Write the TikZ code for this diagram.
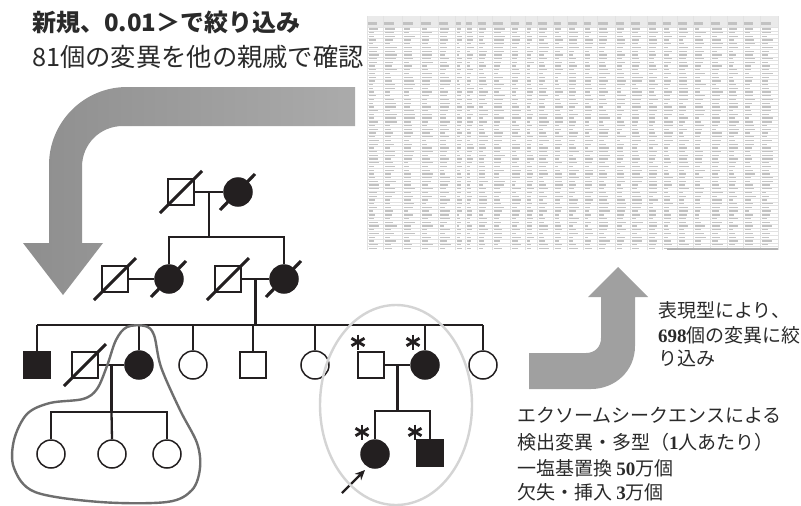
\documentclass[tikz,border=0pt]{standalone}
\usepackage{fontspec}
\setmainfont{Liberation Serif}
\newfontfamily\jp{Noto Sans CJK JP}
\newfontfamily\numf{Liberation Serif}
\usetikzlibrary{arrows.meta,calc}
\definecolor{ink}{HTML}{231F20}
\definecolor{txt}{HTML}{2A2A2A}
\definecolor{arrdark}{HTML}{8E8E8E}
\definecolor{arrlight}{HTML}{ABABAB}
\definecolor{arrR}{HTML}{A0A0A0}
\definecolor{ringc}{HTML}{D4D4D4}
\definecolor{blobc}{HTML}{6E6E6E}
\definecolor{gridc}{HTML}{E2E2E2}
\definecolor{cellt}{HTML}{C2C2C2}
\definecolor{headc}{HTML}{EAEAEA}
\tikzset{
  male/.style={rectangle, draw=ink, line width=1.5pt, minimum size=26pt, inner sep=0pt, fill=white},
  female/.style={circle, draw=ink, line width=1.5pt, minimum size=28pt, inner sep=0pt, fill=white},
  aff/.style={fill=ink},
  rel/.style={draw=ink, line width=2.3pt},
  dead/.style={draw=ink, line width=3.1pt},
  starpic/.pic={\foreach \a in {90,30,150} {\draw[ink, line width=2.8pt] (\a:7.5pt) -- (\a+180:7.5pt);}},
  titleA/.style={anchor=west, inner sep=0pt, text=txt, font=\jp\bfseries\fontsize{24}{24}\selectfont},
  titleB/.style={anchor=west, inner sep=0pt, text=txt, font=\jp\fontsize{25.3}{25.3}\selectfont},
  note/.style={anchor=west, inner sep=0pt, text=txt, font=\jp\fontsize{19}{19}\selectfont},
}
\begin{document}
\begin{tikzpicture}[x=1pt,y=-1pt]
\useasboundingbox (0,0) rectangle (801,506);
\fill[white] (0,0) rectangle (801,506);

% ---------- spreadsheet ----------
\fill[white] (367,16) rectangle (778,250);
\fill[headc] (367,16) rectangle (778,27);
\pgfmathsetseed{7}
\foreach \i in {0,...,59} {
  \draw[gridc, line width=0.3pt] (367,{27+\i*3.72}) -- (778,{27+\i*3.72});
}
\foreach \xa/\xb in {367/383,383/402,402/420,420/438,438/455,455/465,465/477,477/492,492/510,510/525,525/537,537/553,553/567,567/583,583/597,597/615,615/630,630/647,647/662,662/677,677/693,693/710,710/727,727/743,743/760,760/778} {
  \draw[gridc, line width=0.3pt] (\xa,16) -- (\xa,250);
  \fill[cellt] ({\xa+1},22) rectangle ({\xa+0.6*(\xb-\xa)},25);
  \foreach \i in {0,...,59} {
    \pgfmathsetmacro\w{(0.3+0.45*rnd)*(\xb-\xa-2)}
    \fill[cellt] ({\xa+1.5},{27+\i*3.72+1.2}) rectangle ({\xa+1.5+\w},{27+\i*3.72+2.5});
  }
}
\draw[gridc, line width=0.3pt] (778,16) -- (778,250);
\fill[gray!60] (667,247.5) rectangle (778,250);

% ---------- big curved arrow ----------
\shade[left color=arrdark, right color=arrlight]
  (355,87) -- (127,87) .. controls (84,87) and (49,122) .. (49,165)
  -- (49,243) -- (23,243) -- (63,295) -- (103,243) -- (82,243)
  -- (82,167) .. controls (82,144) and (100,126) .. (123,126)
  -- (355,126) -- cycle;

% ---------- right arrow ----------
\fill[arrR]
  (529,389) -- (529,353) -- (586,353) .. controls (595,353) and (601,347) .. (601,338)
  -- (601,297) -- (588,297) -- (618,267) -- (648,297) -- (635,297)
  -- (635,346) .. controls (635,371) and (615,389) .. (591,389) -- cycle;

% ---------- texts ----------
\node[titleA] (t1) at (32,22) {新規、0.01＞で絞り込み};
\node[titleB] (t2) at (32,57) {81個の変異を他の親戚で確認};
\node[note] (r1) at (658,310) {表現型により、};
\node[note] (r2) at (658,335) {{\numf\bfseries 698}個の変異に絞};
\node[note] (r3) at (658,358) {り込み};
\node[note] (e1) at (517,415) {エクソームシークエンスによる};
\node[note] (e2) at (517,442) {検出変異・多型（{\numf\bfseries 1}人あたり）};
\node[note] (e3) at (517,468) {一塩基置換 {\numf\bfseries 50}万個};
\node[note] (e4) at (517,492) {欠失・挿入 {\numf\bfseries 3}万個};

% ---------- pedigree nodes ----------
% generation I
\node[male] (m1) at (181,192) {};
\node[female, aff] (f1) at (238,192) {};
% generation II
\node[male] (m2a) at (115,279) {};
\node[female, aff] (f2a) at (169,279) {};
\node[male] (m2b) at (228,279) {};
\node[female, aff] (f2b) at (284,279) {};
% generation III
\node[male, aff] (a1) at (37,365) {};
\node[male] (sp1) at (85,365) {};
\node[female, aff] (a2) at (139,365) {};
\node[female] (a3) at (193,365) {};
\node[male] (a4) at (253,365) {};
\node[female] (a5) at (315,365) {};
\node[male] (sp2) at (371,365) {};
\node[female, aff] (a6) at (425,365) {};
\node[female] (a7) at (483,365) {};
% generation IV
\node[female] (b1) at (51,454) {};
\node[female] (b2) at (112,454) {};
\node[female] (b3) at (167,454) {};
\node[female, aff] (p1) at (375,454) {};
\node[male, aff] (p2) at (430,453) {};

% ---------- relationship lines ----------
\coordinate (c1) at ($(m1.east)!0.5!(f1.west)$);
\coordinate (s1) at (c1 |- 0,237);
\draw[rel] (m1.east) -- (f1.west);
\draw[rel] (c1) -- (s1);
\draw[rel] (f2a.north) |- (s1) -| (f2b.north);

\draw[rel] (m2a.east) -- (f2a.west);
\draw[rel] (m2b.east) -- (f2b.west);
\coordinate (c2) at ($(m2b.east)!0.5!(f2b.west)$);
\coordinate (L3) at (37,325);
\coordinate (R3) at (483,325);
\draw[rel] (c2) -- (c2 |- L3);
\draw[rel] (L3) -- (R3);
\foreach \n in {a1,a2,a3,a4,a5,a6,a7} { \draw[rel] (\n.north) -- (\n.north |- L3); }

\draw[rel] (sp1.east) -- (a2.west);
\coordinate (c3) at ($(sp1.east)!0.5!(a2.west)$);
\coordinate (s3) at (c3 |- 0,412);
\draw[rel] (c3) -- (s3);
\draw[rel] (b1.north) |- (s3) -| (b3.north);
\draw[rel] (s3) -- (b2.north);

\draw[rel] (sp2.east) -- (a6.west);
\coordinate (c4) at ($(sp2.east)!0.5!(a6.west)$);
\coordinate (s4) at (c4 |- 0,411);
\draw[rel] (c4) -- (s4);
\draw[rel] (p1.north) |- (s4) -| (p2.north);

% ---------- deceased slashes ----------
\foreach \n in {m1,m2a,m2b,sp1} { \draw[dead] ($(\n)+(-21,21)$) -- ($(\n)+(21,-21)$); }
\foreach \n in {f1,f2a,f2b} { \draw[dead] ($(\n)+(-18,18)$) -- ($(\n)+(17,-18)$); }

% ---------- asterisks ----------
\pic (k1) at (358,342) {starpic};
\pic (k2) at (413,342) {starpic};
\pic (k3) at (362,432) {starpic};
\pic (k4) at (415,432) {starpic};

% ---------- proband arrow ----------
\coordinate (pa) at (342,493);
\coordinate (pb) at (365,470);
\draw[draw=ink, line width=2.3pt, -{Stealth[length=10pt,width=9pt]}] (pa) -- (pb);

% ---------- encircling outlines ----------
\draw[ringc, line width=2.4pt] (396,405) ellipse [x radius=76, y radius=100];
\draw[blobc, line width=2.4pt] plot[smooth cycle, tension=0.55] coordinates {
  (127,327) (145,326) (154,335) (161,367) (180,410) (197,443) (200,468)
  (192,490) (167,502) (100,502) (35,492) (14,468) (14,440) (27,414)
  (50,403) (83,399) (97,389) (107,366) (116,340)};
\end{tikzpicture}
\end{document}
